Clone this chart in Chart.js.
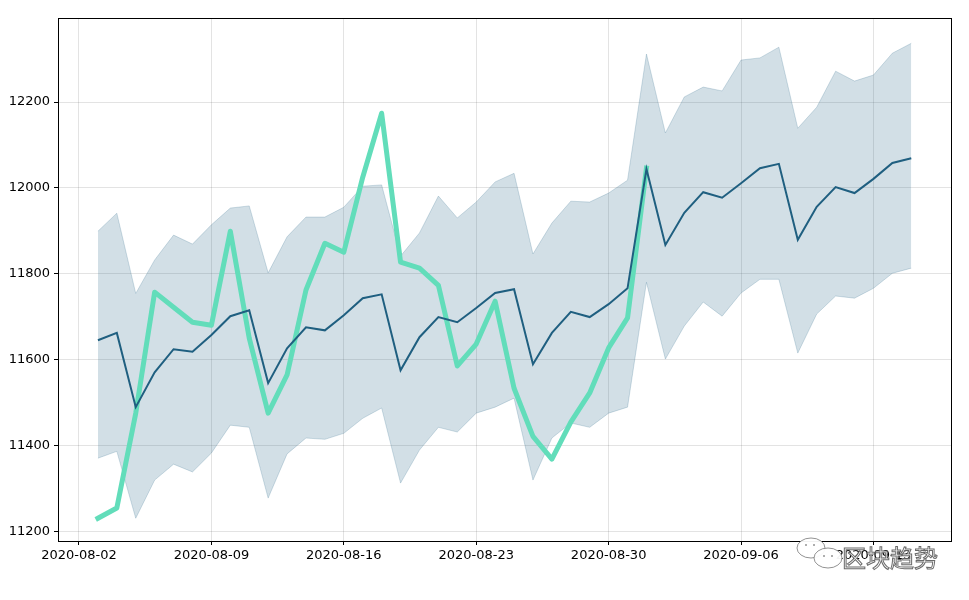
<!DOCTYPE html>
<html>
<head>
<meta charset="utf-8">
<script src="https://cdn.jsdelivr.net/npm/chart.js@4.4.0/dist/chart.umd.min.js"></script>
<style>
  html, body { margin: 0; padding: 0; background: #fff; }
  #wrap { width: 969px; height: 600px; }
</style>
</head>
<body>
<div id="wrap"><canvas id="myChart" width="969" height="600"></canvas></div>
<script>
// dates of the forecast band (2020-08-03 .. 2020-09-15)
const dates = [
  '2020-08-03','2020-08-04','2020-08-05','2020-08-06','2020-08-07','2020-08-08','2020-08-09',
  '2020-08-10','2020-08-11','2020-08-12','2020-08-13','2020-08-14','2020-08-15','2020-08-16',
  '2020-08-17','2020-08-18','2020-08-19','2020-08-20','2020-08-21','2020-08-22','2020-08-23',
  '2020-08-24','2020-08-25','2020-08-26','2020-08-27','2020-08-28','2020-08-29','2020-08-30',
  '2020-08-31','2020-09-01','2020-09-02','2020-09-03','2020-09-04','2020-09-05','2020-09-06',
  '2020-09-07','2020-09-08','2020-09-09','2020-09-10','2020-09-11','2020-09-12','2020-09-13',
  '2020-09-14','2020-09-15'
];
const predicted = [
  11645, 11662, 11489, 11570, 11624, 11618, 11657, 11701, 11715, 11545,
  11626, 11675, 11668, 11703, 11743, 11752, 11575, 11652, 11699, 11687,
  11720, 11755, 11764, 11589, 11662, 11711, 11699, 11729, 11766, 12044,
  11867, 11942, 11990, 11977, 12011, 12046, 12056, 11879, 11956, 12002,
  11988, 12021, 12058, 12069
];
const upper = [
  11899, 11941, 11754, 11832, 11890, 11869, 11914, 11953, 11958, 11802,
  11886, 11932, 11932, 11955, 12004, 12007, 11841, 11895, 11981, 11930,
  11967, 12014, 12034, 11846, 11918, 11969, 11967, 11988, 12018, 12312,
  12128, 12212, 12235, 12226, 12298, 12303, 12328, 12139, 12188, 12272,
  12249, 12263, 12314, 12337
];
const lower = [
  11370, 11386, 11230, 11319, 11356, 11338, 11382, 11447, 11442, 11277,
  11380, 11417, 11414, 11428, 11463, 11487, 11312, 11389, 11442, 11431,
  11475, 11489, 11510, 11319, 11417, 11452, 11442, 11475, 11489, 11780,
  11601, 11678, 11734, 11701, 11755, 11787, 11787, 11615, 11706, 11748,
  11743, 11766, 11801, 11813
];
// actual price, 2020-08-03 .. 2020-09-01
const actual = [
  11230, 11254, 11475, 11757, 11722, 11687, 11680, 11899, 11650, 11475,
  11564, 11762, 11871, 11850, 12025, 12174, 11827, 11813, 11773, 11585,
  11636, 11736, 11533, 11421, 11368, 11454, 11522, 11627, 11697, 12046
];
const xTickLabels = ['2020-08-02','2020-08-09','2020-08-16','2020-08-23','2020-08-30','2020-09-06','2020-09-13'];
const yTickValues = [11200, 11400, 11600, 11800, 12000, 12200];

const DAY = 86400000;
const base = Date.parse('2020-08-02');
const dayOf = d => (Date.parse(d) - base) / DAY;

const pts = arr => arr.map((v, i) => ({ x: dayOf(dates[i]), y: v }));

const frame = {
  id: 'frame',
  afterDraw(chart) {
    const { ctx, chartArea: a } = chart;
    ctx.save();
    ctx.strokeStyle = '#000';
    ctx.lineWidth = 1;
    ctx.strokeRect(Math.round(a.left) + 0.5, Math.round(a.top) + 0.5,
                   Math.round(a.right - a.left), Math.round(a.bottom - a.top));
    // watermark
    ctx.lineWidth = 1;
    ctx.strokeStyle = 'rgba(120,120,120,0.8)';
    ctx.fillStyle = 'rgba(255,255,255,0.95)';
    ctx.beginPath();
    ctx.ellipse(811, 548, 14, 10, 0, 0, Math.PI * 2);
    ctx.fill(); ctx.stroke();
    ctx.beginPath();
    ctx.ellipse(828, 558, 14, 10, 0, 0, Math.PI * 2);
    ctx.fill(); ctx.stroke();
    ctx.fillStyle = 'rgba(120,120,120,0.8)';
    [[806, 545], [814, 545], [824, 556], [832, 556]].forEach(p => {
      ctx.beginPath(); ctx.arc(p[0], p[1], 1, 0, Math.PI * 2); ctx.fill();
    });
    ctx.font = '24px "Noto Sans CJK SC"';
    ctx.textBaseline = 'middle';
    ctx.fillStyle = 'rgba(255,255,255,0.9)';
    ctx.strokeStyle = 'rgba(90,90,90,0.9)';
    ctx.fillText('区块趋势', 842, 558);
    ctx.strokeText('区块趋势', 842, 558);
    ctx.restore();
  }
};

const config = {
  type: 'line',
  data: {
    datasets: [
      {
        label: 'upper',
        data: pts(upper),
        borderColor: 'rgba(31,94,128,0.2)',
        backgroundColor: 'rgba(31,94,128,0.2)',
        borderWidth: 1,
        pointRadius: 0,
        fill: '+1',
        order: 3
      },
      {
        label: 'lower',
        data: pts(lower),
        borderColor: 'rgba(31,94,128,0.2)',
        borderWidth: 1,
        pointRadius: 0,
        fill: false,
        order: 3
      },
      {
        label: 'actual',
        data: pts(actual),
        borderColor: '#62ddba',
        borderWidth: 5,
        borderCapStyle: 'square',
        borderJoinStyle: 'round',
        pointRadius: 0,
        fill: false,
        order: 2
      },
      {
        label: 'predicted',
        data: pts(predicted),
        borderColor: '#1f5f80',
        borderWidth: 2,
        pointRadius: 0,
        fill: false,
        order: 1
      }
    ]
  },
  options: {
    responsive: false,
    animation: false,
    layout: { padding: { top: 18, right: 18, left: 0, bottom: 0 } },
    plugins: { legend: { display: false }, tooltip: { enabled: false } },
    elements: { line: { tension: 0 } },
    scales: {
      x: {
        type: 'linear',
        min: -1.11,
        max: 46.1,
        afterBuildTicks: s => { s.ticks = xTickLabels.map(d => ({ value: dayOf(d) })); },
        afterFit: s => { s.height = 59; },
        ticks: {
          color: '#000',
          font: { family: 'DejaVu Sans', size: 13 },
          padding: 3,
          maxRotation: 0,
          autoSkip: false,
          callback: (v) => {
            const i = xTickLabels.findIndex(d => Math.abs(dayOf(d) - v) < 0.01);
            return i >= 0 ? xTickLabels[i] : '';
          }
        },
        grid: { color: 'rgba(0,0,0,0.11)', tickColor: '#000', tickLength: 4 },
        border: { display: false }
      },
      y: {
        min: 11177,
        max: 12396,
        afterBuildTicks: s => { s.ticks = yTickValues.map(v => ({ value: v })); },
        afterFit: s => { s.width = 58; },
        ticks: {
          color: '#000',
          font: { family: 'DejaVu Sans', size: 13 },
          padding: 4,
          callback: v => String(v)
        },
        grid: { color: 'rgba(0,0,0,0.11)', tickColor: '#000', tickLength: 4 },
        border: { display: false }
      }
    }
  },
  plugins: [frame]
};

const myChart = new Chart(document.getElementById('myChart'), config);
</script>
</body>
</html>
